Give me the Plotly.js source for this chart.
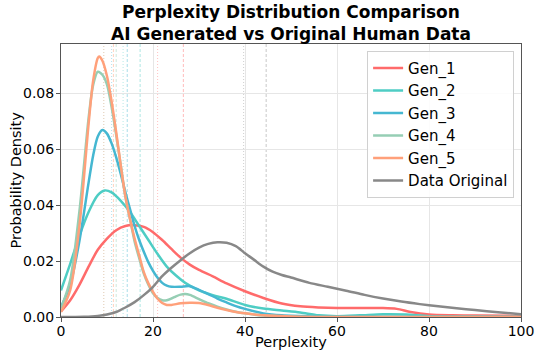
<!DOCTYPE html>
<html>
<head>
<meta charset="utf-8">
<script src="https://cdn.plot.ly/plotly-3.0.1.min.js"></script>
<style>html,body{margin:0;padding:0;background:#fff;}#chart{width:555px;height:358px;}</style>
</head>
<body>
<div id="chart"></div>
<script>
// ---- data ----
const seriesNames = ["Gen_1", "Gen_2", "Gen_3", "Gen_4", "Gen_5", "Data Original"];
const seriesColors = ["#FF6B6B", "#4ECDC4", "#45B7D1", "#96CEB4", "#FFA07A", "#888888"];

const gen1X = [0,2,4,6,8,10,12,14,16,18,20,22,24,26,28,30,33,36,40,44,48,52,56,60,65,70,73,76,80,85,90,100];
const gen1Y = [0.002,0.006,0.0115,0.018,0.024,0.028,0.031,0.0325,0.0328,0.0322,0.0303,0.0275,0.0243,0.0212,0.0187,0.0168,0.0145,0.012,0.0092,0.0068,0.0048,0.0038,0.0034,0.0032,0.0032,0.0032,0.0029,0.0018,0.0009,0.0006,0.0005,0.0004];

const gen2X = [0,2,4,6,8,9.5,11,13,15,17,19,21,23,25,27,30,33,36,40,44,48,52,56,60,65,70,75,80,90,100];
const gen2Y = [0.0095,0.019,0.029,0.0375,0.0435,0.0452,0.0445,0.0415,0.0375,0.0325,0.0275,0.0225,0.018,0.0148,0.0122,0.0095,0.0078,0.0065,0.0043,0.003,0.0023,0.0016,0.0006,0.0003,0.0006,0.001,0.0009,0.0003,0.0001,0];

const gen3X = [0,2,4,6,7,8,9,10,11,12,13,14,15,16,17,18,19,20,21,22,23,24,26,28,30,32,34,36,38,40,44,48,55,60,100];
const gen3Y = [0.0036,0.0115,0.0271,0.048,0.0578,0.0645,0.0668,0.0655,0.062,0.057,0.051,0.0445,0.0385,0.0325,0.0275,0.0233,0.0195,0.0165,0.014,0.0122,0.0112,0.0108,0.0108,0.011,0.0097,0.0082,0.0066,0.0052,0.0039,0.0029,0.0013,0.0006,0.0002,0.0001,0];

const gen4X = [0,2,4,6,7,8,9,10,11,12,13,14,15,16,17,18,19,20,21,22,23,24,25,26,27,28,30,32,34,36,38,40,44,50,60,100];
const gen4Y = [0.003,0.0132,0.0377,0.071,0.083,0.0876,0.0865,0.083,0.075,0.065,0.054,0.043,0.035,0.027,0.021,0.0155,0.0115,0.0085,0.0068,0.006,0.006,0.0066,0.0074,0.008,0.0082,0.0079,0.0064,0.0049,0.0037,0.0027,0.0019,0.0013,0.0005,0.0001,0,0];

const gen5X = [0,2,4,6,7,8,8.3,9,10,11,12,13,14,15,16,17,18,19,20,21,22,23,24,26,28,30,32,34,36,38,40,44,50,60,100];
const gen5Y = [0.0018,0.0096,0.0324,0.069,0.0845,0.0925,0.093,0.0915,0.086,0.077,0.066,0.054,0.043,0.035,0.028,0.022,0.016,0.012,0.009,0.0065,0.005,0.0043,0.0043,0.0049,0.0051,0.005,0.0043,0.0033,0.0025,0.0018,0.0013,0.0006,0.0002,0,0];

const origX = [0,5,8,10,12,14,16,18,20,22,24,26,28,30,32,34,36,38,40,42,44,46,48,50,54,58,62,66,70,74,78,82,86,90,95,100];
const origY = [0,0.0001,0.0004,0.0009,0.0018,0.0034,0.0053,0.0078,0.0108,0.0146,0.0176,0.0203,0.0228,0.0248,0.0261,0.0267,0.0265,0.0253,0.0228,0.0204,0.0180,0.0162,0.0150,0.0141,0.0122,0.0108,0.0094,0.0079,0.0066,0.0055,0.0046,0.0038,0.0031,0.0025,0.0017,0.001];

const medians = [21.0, 13.5, 11.0, 9.3, 9.3, 39.7];
const means   = [26.6, 17.2, 14.4, 12.0, 11.4, 44.6];

const xTicks = [0, 20, 40, 60, 80, 100];
const yTicks = [0, 0.02, 0.04, 0.06, 0.08];
const titleText = "Perplexity Distribution Comparison<br>AI Generated vs Original Human Data";
const xTitle = "Perplexity";
const yTitle = "Probability Density";

// ---- build ----
const xs = [gen1X, gen2X, gen3X, gen4X, gen5X, origX];
const ys = [gen1Y, gen2Y, gen3Y, gen4Y, gen5Y, origY];

const traces = seriesNames.map((n, i) => ({
  type: "scatter", mode: "lines", name: n,
  x: xs[i], y: ys[i],
  line: {color: seriesColors[i], width: 2.5, shape: "spline", smoothing: 0.8},
  hoverinfo: "skip"
}));

const shapes = [];
seriesNames.forEach((n, i) => {
  shapes.push({type: "line", xref: "x", yref: "paper", x0: means[i], x1: means[i], y0: 0, y1: 1,
    line: {color: seriesColors[i], width: 1, dash: "3px,2px"}, opacity: 0.45, layer: "below"});
  shapes.push({type: "line", xref: "x", yref: "paper", x0: medians[i], x1: medians[i], y0: 0, y1: 1,
    line: {color: seriesColors[i], width: 1, dash: "1px,2px"}, opacity: 0.4, layer: "below"});
});

const font = "DejaVu Sans, sans-serif";
const layout = {
  width: 555, height: 358,
  margin: {l: 61, r: 34, t: 44, b: 41, pad: 0},
  paper_bgcolor: "#fff", plot_bgcolor: "#fff",
  font: {family: font, color: "#000"},
  title: {text: titleText, font: {family: font, size: 17, weight: "bold", color: "#000"},
    x: 0.5, xref: "paper", xanchor: "center", y: 0.95, yref: "container", yanchor: "top"},
  showlegend: true,
  legend: {x: 0.985, y: 0.975, xanchor: "right", yanchor: "top",
    bgcolor: "rgba(255,255,255,0.85)", bordercolor: "#d0d0d0", borderwidth: 1,
    font: {family: font, size: 15, color: "#000"}, itemwidth: 30, tracegroupgap: 0},
  xaxis: {range: [0, 100], tickvals: xTicks, ticktext: xTicks.map(String),
    showgrid: true, gridcolor: "#e6e6e6", gridwidth: 1, zeroline: false,
    showline: true, mirror: true, linecolor: "#555", linewidth: 1,
    ticks: "outside", ticklen: 4, tickcolor: "#555", ticklabelstandoff: -3,
    tickfont: {family: font, size: 14, color: "#000"}},
  yaxis: {range: [0, 0.0975], tickvals: yTicks, ticktext: yTicks.map(v => v.toFixed(2)),
    showgrid: true, gridcolor: "#e6e6e6", gridwidth: 1, zeroline: false,
    showline: true, mirror: true, linecolor: "#555", linewidth: 1,
    ticks: "outside", ticklen: 4, tickcolor: "#555", ticklabelstandoff: -1,
    tickfont: {family: font, size: 14, color: "#000"}},
  annotations: [
    {text: xTitle, xref: "paper", yref: "paper", x: 0.5, y: -0.09, xanchor: "center", yanchor: "middle",
      showarrow: false, font: {family: font, size: 14.5, color: "#000"}},
    {text: yTitle, xref: "paper", yref: "paper", x: -0.1, y: 0.5, xanchor: "center", yanchor: "middle",
      textangle: -90, showarrow: false, font: {family: font, size: 14.5, color: "#000"}}
  ],
  shapes: shapes
};

Plotly.newPlot("chart", traces, layout, {staticPlot: true, displayModeBar: false});
</script>
</body>
</html>
